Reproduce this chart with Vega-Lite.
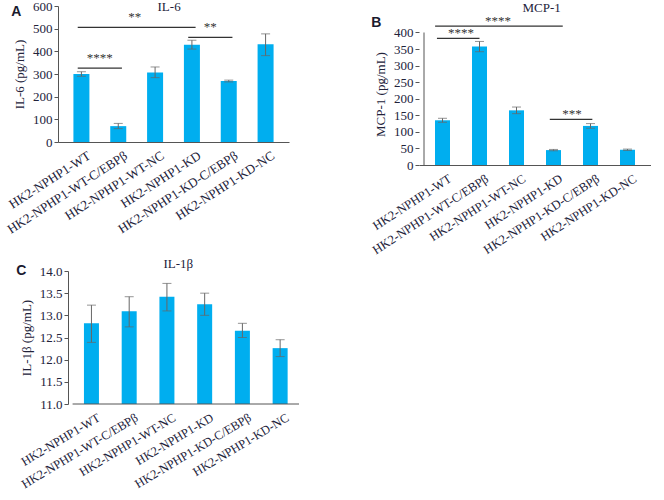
{
  "$schema": "https://vega.github.io/schema/vega-lite/v6.json",
  "padding": {"left": 5, "top": 0, "right": 0, "bottom": 0},
  "background": "white",
  "config": {
    "font": "Liberation Serif",
    "view": {"stroke": null},
    "axis": {
      "labelFont": "Liberation Serif", "titleFont": "Liberation Serif",
      "labelColor": "#22223a", "titleColor": "#22223a",
      "domainColor": "#555", "tickColor": "#555",
      "grid": false, "titleFontWeight": "normal",
      "labelFontSize": 13, "titleFontSize": 13
    },
    "axisX": {"ticks": false, "labelAngle": -33, "labelAlign": "right", "labelBaseline": "top", "labelOverlap": false, "labelFlush": false, "labelPadding": 7, "labelOffset": 4, "title": null, "values": [1, 2, 3, 4, 5, 6],
      "labelExpr": "['HK2-NPHP1-WT','HK2-NPHP1-WT-C/EBPβ','HK2-NPHP1-WT-NC','HK2-NPHP1-KD','HK2-NPHP1-KD-C/EBPβ','HK2-NPHP1-KD-NC'][datum.value - 1]"},
    "axisY": {"tickSize": 4, "titlePadding": 6, "labelPadding": 2, "labelOverlap": false}
  },
  "datasets": {
    "il6": [
      {"idx": 1, "group": "HK2-NPHP1-WT", "mean": 300, "lo": 290, "hi": 310},
      {"idx": 2, "group": "HK2-NPHP1-WT-C/EBPβ", "mean": 70, "lo": 59, "hi": 82},
      {"idx": 3, "group": "HK2-NPHP1-WT-NC", "mean": 307, "lo": 284, "hi": 331},
      {"idx": 4, "group": "HK2-NPHP1-KD", "mean": 429, "lo": 410, "hi": 449},
      {"idx": 5, "group": "HK2-NPHP1-KD-C/EBPβ", "mean": 269, "lo": 265, "hi": 273},
      {"idx": 6, "group": "HK2-NPHP1-KD-NC", "mean": 431, "lo": 381, "hi": 477}
    ],
    "il6_sig": [
      {"x1": 0.9, "x2": 4.1, "xm": 2.45, "y": 506, "label": "**"},
      {"x1": 3.9, "x2": 5.1, "xm": 4.5, "y": 462, "label": "**"},
      {"x1": 0.9, "x2": 2.1, "xm": 1.5, "y": 326, "label": "****"}
    ],
    "mcp1": [
      {"idx": 1, "group": "HK2-NPHP1-WT", "mean": 135, "lo": 129, "hi": 141},
      {"idx": 2, "group": "HK2-NPHP1-WT-C/EBPβ", "mean": 358, "lo": 342, "hi": 373},
      {"idx": 3, "group": "HK2-NPHP1-WT-NC", "mean": 165, "lo": 155, "hi": 175},
      {"idx": 4, "group": "HK2-NPHP1-KD", "mean": 45, "lo": 43, "hi": 47},
      {"idx": 5, "group": "HK2-NPHP1-KD-C/EBPβ", "mean": 118, "lo": 111, "hi": 125},
      {"idx": 6, "group": "HK2-NPHP1-KD-NC", "mean": 46, "lo": 44, "hi": 48}
    ],
    "mcp1_sig": [
      {"x1": 0.8, "x2": 4.25, "xm": 2.5, "y": 419, "label": "****"},
      {"x1": 0.85, "x2": 2, "xm": 1.5, "y": 382, "label": "****"},
      {"x1": 3.9, "x2": 5.05, "xm": 4.5, "y": 138, "label": "***"}
    ],
    "il1b": [
      {"idx": 1, "group": "HK2-NPHP1-WT", "mean": 12.82, "lo": 12.39, "hi": 13.23},
      {"idx": 2, "group": "HK2-NPHP1-WT-C/EBPβ", "mean": 13.09, "lo": 12.74, "hi": 13.42},
      {"idx": 3, "group": "HK2-NPHP1-WT-NC", "mean": 13.42, "lo": 13.1, "hi": 13.72},
      {"idx": 4, "group": "HK2-NPHP1-KD", "mean": 13.25, "lo": 13.0, "hi": 13.5},
      {"idx": 5, "group": "HK2-NPHP1-KD-C/EBPβ", "mean": 12.65, "lo": 12.5, "hi": 12.82},
      {"idx": 6, "group": "HK2-NPHP1-KD-NC", "mean": 12.26, "lo": 12.07, "hi": 12.45}
    ]
  },
  "spacing": 0,
  "vconcat": [
    {
      "spacing": 80,
      "hconcat": [
        {
          "width": 231, "height": 136,
          "layer": [
            {"data": {"name": "il6"}, "mark": {"type": "bar", "width": 16, "color": "#00AEEF"},
             "encoding": {
               "x": {"field": "idx", "type": "quantitative", "scale": {"domain": [0.5, 6.5], "nice": false, "zero": false}},
               "y": {"field": "mean", "type": "quantitative", "scale": {"domain": [0, 600], "nice": false}, "axis": {"title": "IL-6 (pg/mL)", "labelOverlap": false, "tickCount": 7, "values": [0, 100, 200, 300, 400, 500, 600]}}
             }},
            {"data": {"name": "il6"}, "mark": {"type": "rule", "color": "#666", "strokeWidth": 1},
             "encoding": {"x": {"field": "idx", "type": "quantitative"}, "y": {"field": "lo", "type": "quantitative"}, "y2": {"field": "hi"}}},
            {"data": {"name": "il6"}, "mark": {"type": "tick", "orient": "horizontal", "size": 9, "thickness": 1, "color": "#666"},
             "encoding": {"x": {"field": "idx", "type": "quantitative"}, "y": {"field": "lo", "type": "quantitative"}}},
            {"data": {"name": "il6"}, "mark": {"type": "tick", "orient": "horizontal", "size": 9, "thickness": 1, "color": "#666"},
             "encoding": {"x": {"field": "idx", "type": "quantitative"}, "y": {"field": "hi", "type": "quantitative"}}},
            {"data": {"name": "il6_sig"}, "mark": {"type": "rule", "color": "#333", "strokeWidth": 1.2},
             "encoding": {"x": {"field": "x1", "type": "quantitative"}, "x2": {"field": "x2"}, "y": {"field": "y", "type": "quantitative"}}},
            {"data": {"name": "il6_sig"}, "mark": {"type": "text", "fontSize": 13, "baseline": "alphabetic", "dy": -6, "color": "#333"},
             "encoding": {"x": {"field": "xm", "type": "quantitative"}, "y": {"field": "y", "type": "quantitative"}, "text": {"field": "label"}}},
            {"data": {"values": [{}]}, "mark": {"type": "text", "fontSize": 13, "color": "#22223a"},
             "encoding": {"x": {"datum": 3.38}, "y": {"datum": 595}, "text": {"value": "IL-6"}}},
            {"data": {"values": [{}]}, "mark": {"type": "text", "font": "Liberation Sans", "fontWeight": "bold", "fontSize": 14, "color": "#1a1a2e"},
             "encoding": {"x": {"datum": -0.77}, "y": {"datum": 573}, "text": {"value": "A"}}}
          ]
        },
        {
          "width": 232, "height": 159,
          "layer": [
            {"data": {"name": "mcp1"}, "mark": {"type": "bar", "width": 15, "color": "#00AEEF"},
             "encoding": {
               "x": {"field": "idx", "type": "quantitative", "scale": {"domain": [0.5, 6.5], "nice": false, "zero": false}, "axis": {"labelFontSize": 12.6}},
               "y": {"field": "mean", "type": "quantitative", "scale": {"domain": [0, 480], "nice": false}, "axis": {"title": "MCP-1 (pg/mL)", "titleY": 88, "domain": false, "labelOverlap": false, "tickCount": 9, "values": [0, 50, 100, 150, 200, 250, 300, 350, 400]}}
             }},
            {"data": {"values": [{}]}, "mark": {"type": "rule", "color": "#555", "strokeWidth": 1},
             "encoding": {"x": {"datum": 0.5}, "y": {"datum": 0}, "y2": {"datum": 400}}},
            {"data": {"name": "mcp1"}, "mark": {"type": "rule", "color": "#666", "strokeWidth": 1},
             "encoding": {"x": {"field": "idx", "type": "quantitative"}, "y": {"field": "lo", "type": "quantitative"}, "y2": {"field": "hi"}}},
            {"data": {"name": "mcp1"}, "mark": {"type": "tick", "orient": "horizontal", "size": 9, "thickness": 1, "color": "#666"},
             "encoding": {"x": {"field": "idx", "type": "quantitative"}, "y": {"field": "lo", "type": "quantitative"}}},
            {"data": {"name": "mcp1"}, "mark": {"type": "tick", "orient": "horizontal", "size": 9, "thickness": 1, "color": "#666"},
             "encoding": {"x": {"field": "idx", "type": "quantitative"}, "y": {"field": "hi", "type": "quantitative"}}},
            {"data": {"name": "mcp1_sig"}, "mark": {"type": "rule", "color": "#333", "strokeWidth": 1.2},
             "encoding": {"x": {"field": "x1", "type": "quantitative"}, "x2": {"field": "x2"}, "y": {"field": "y", "type": "quantitative"}}},
            {"data": {"name": "mcp1_sig"}, "mark": {"type": "text", "fontSize": 13, "baseline": "alphabetic", "dy": -1, "color": "#333"},
             "encoding": {"x": {"field": "xm", "type": "quantitative"}, "y": {"field": "y", "type": "quantitative"}, "text": {"field": "label"}}},
            {"data": {"values": [{}]}, "mark": {"type": "text", "fontSize": 13, "color": "#22223a"},
             "encoding": {"x": {"datum": 3.68}, "y": {"datum": 473}, "text": {"value": "MCP-1"}}},
            {"data": {"values": [{}]}, "mark": {"type": "text", "font": "Liberation Sans", "fontWeight": "bold", "fontSize": 14, "color": "#1a1a2e"},
             "encoding": {"x": {"datum": -0.79}, "y": {"datum": 428}, "text": {"value": "B"}}}
          ]
        }
      ]
    },
    {
      "width": 246, "height": 133,
      "layer": [
        {"data": {"name": "il1b"}, "mark": {"type": "bar", "width": 15, "color": "#00AEEF"},
         "encoding": {
           "x": {"field": "idx", "type": "quantitative", "scale": {"domain": [0.246, 6.5], "nice": false, "zero": false}, "axis": {"labelAngle": -31, "labelFontSize": 12.4, "domain": false}},
           "y": {"field": "mean", "type": "quantitative", "scale": {"domain": [11, 14], "nice": false, "zero": false}, "axis": {"title": "IL-1β (pg/mL)", "offset": -10, "labelOverlap": false, "tickCount": 7, "values": [11, 11.5, 12, 12.5, 13, 13.5, 14], "format": ".1f"}},
           "y2": {"datum": 11}
         }},
        {"data": {"values": [{}]}, "mark": {"type": "rule", "color": "#555", "strokeWidth": 1},
         "encoding": {"y": {"datum": 11}, "x": {"datum": 0.5}, "x2": {"datum": 6.5}}},
        {"data": {"name": "il1b"}, "mark": {"type": "rule", "color": "#666", "strokeWidth": 1},
         "encoding": {"x": {"field": "idx", "type": "quantitative"}, "y": {"field": "lo", "type": "quantitative"}, "y2": {"field": "hi"}}},
        {"data": {"name": "il1b"}, "mark": {"type": "tick", "orient": "horizontal", "size": 9, "thickness": 1, "color": "#666"},
         "encoding": {"x": {"field": "idx", "type": "quantitative"}, "y": {"field": "lo", "type": "quantitative"}}},
        {"data": {"name": "il1b"}, "mark": {"type": "tick", "orient": "horizontal", "size": 9, "thickness": 1, "color": "#666"},
         "encoding": {"x": {"field": "idx", "type": "quantitative"}, "y": {"field": "hi", "type": "quantitative"}}},
        {"data": {"values": [{}]}, "mark": {"type": "text", "fontSize": 13, "color": "#22223a"},
         "encoding": {"x": {"datum": 3.3}, "y": {"datum": 14.16}, "text": {"value": "IL-1β"}}},
        {"data": {"values": [{}]}, "mark": {"type": "text", "font": "Liberation Sans", "fontWeight": "bold", "fontSize": 14, "color": "#1a1a2e"},
         "encoding": {"x": {"datum": -0.86}, "y": {"datum": 14.0}, "text": {"value": "C"}}}
      ]
    }
  ]
}
